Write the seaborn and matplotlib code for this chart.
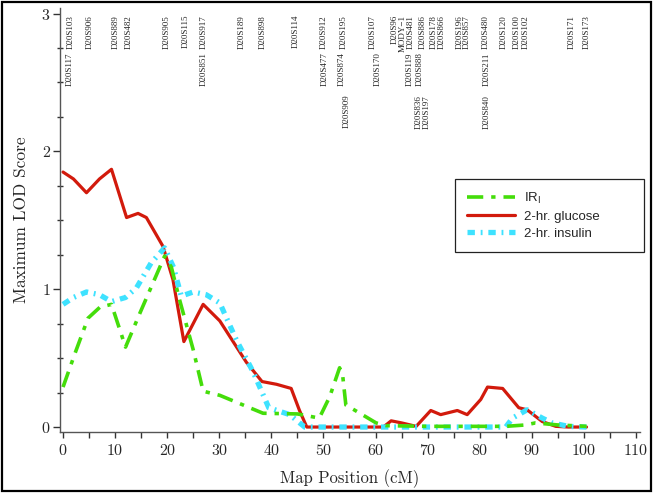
import numpy as np
import pandas as pd
import seaborn as sns
import matplotlib.pyplot as plt
from matplotlib.patches import Rectangle

# LOD score traces (map position in cM)
glucose_x = [0, 2, 4.5, 7, 9.3, 12.2, 14.4, 16.0, 19.2, 21.1, 23.2, 24.3, 26.9, 30.1, 35.2,
             38.2, 41.0, 43.8, 45.4, 46.8, 50, 55, 61.5, 63.0, 65.0, 67.8, 70.6, 72.5, 75.7,
             77.6, 80.2, 81.5, 84.4, 87.5, 89.1, 92.0, 94.6, 97, 100.5]
glucose_y = [1.85, 1.80, 1.70, 1.80, 1.87, 1.52, 1.55, 1.52, 1.31, 1.07, 0.62, 0.70, 0.89, 0.77, 0.47,
             0.33, 0.31, 0.28, 0.12, 0.0, 0.0, 0.0, 0.0, 0.045, 0.03, 0.005, 0.12, 0.09, 0.12,
             0.09, 0.20, 0.29, 0.28, 0.14, 0.125, 0.04, 0.005, 0.0, 0.0]

ir_x = [0, 2.3, 4.8, 7.1, 9.3, 12.0, 14.8, 19.5, 20.8, 22.4, 25.0, 26.9, 30.1, 38.4, 45.0,
        49.2, 51.2, 53.1, 53.7, 54.3, 57.0, 60.1, 62, 70, 80, 85, 88.8, 90.7, 95, 100.5]
ir_y = [0.29, 0.535, 0.79, 0.87, 0.89, 0.58, 0.83, 1.24, 1.16, 0.92, 0.56, 0.26, 0.23, 0.10, 0.095,
        0.065, 0.22, 0.43, 0.37, 0.16, 0.10, 0.03, 0.01, 0.005, 0.005, 0.005, 0.015, 0.03, 0.015, 0.005]

insulin_x = [0, 2, 4.5, 7, 9.3, 12.0, 14.1, 16.9, 19.5, 21.2, 22.7, 25.0, 27.5, 30.1, 33.3,
             36.5, 39.5, 43.5, 46.4, 50, 60, 70, 80, 85, 86.3, 89.1, 92.0, 93.9, 97, 100.5]
insulin_y = [0.89, 0.94, 0.98, 0.96, 0.91, 0.94, 1.01, 1.19, 1.30, 1.16, 0.95, 0.98, 0.96, 0.90, 0.63,
             0.40, 0.14, 0.09, 0.0, 0.0, 0.0, 0.0, 0.0, 0.0, 0.065, 0.125, 0.065, 0.03, 0.005, 0.0]

# marker names along the top, three stacked rows
row1_names = ['D20S103', 'D20S906', 'D20S889', 'D20S482', 'D20S905', 'D20S115', 'D20S917',
              'D20S189', 'D20S898', 'D20S114', 'D20S912', 'D20S195', 'D20S107', 'D20S96',
              'MODY\u22121', 'D20S481', 'D20S886', 'D20S178', 'D20S866', 'D20S196', 'D20S857',
              'D20S480', 'D20S120', 'D20S100', 'D20S102', 'D20S171', 'D20S173']
row1_pos = [1.5, 5.2, 10.2, 12.7, 20.0, 23.6, 27.1, 34.3, 38.4, 44.7, 50.1, 53.9, 59.4, 63.6,
            65.2, 66.7, 69.0, 71.1, 72.7, 76.2, 77.6, 81.2, 84.6, 87.1, 88.9, 97.6, 100.6]
row2_names = ['D20S117', 'D20S851', 'D20S477', 'D20S874', 'D20S170', 'D20S119', 'D20S888', 'D20S211']
row2_pos = [1.3, 27.1, 50.3, 53.6, 60.5, 66.5, 68.4, 81.3]
row3_names = ['D20S909', 'D20S836', 'D20S197', 'D20S840']
row3_pos = [54.5, 68.2, 69.8, 81.3]

sns.set_theme(style="white")
plt.rcParams['axes.formatter.use_mathtext'] = True
plt.rcParams['mathtext.fontset'] = 'dejavusans'

fig = plt.figure(figsize=(6.54, 4.96), dpi=100)
ax = fig.add_axes([0.0924, 0.1296, 0.8856, 0.8542])

red = '#d21a0c'
green = '#44dd0a'
cyan = '#3ee2ff'

sns.lineplot(x=glucose_x, y=glucose_y, ax=ax, color=red, lw=2.3, label='2-hr. glucose')
sns.lineplot(x=insulin_x, y=insulin_y, ax=ax, color=cyan, lw=3.8, label='2-hr. insulin')
ax.lines[-1].set_dashes([1.4, 1.1, 0.35, 1.1])
sns.lineplot(x=ir_x, y=ir_y, ax=ax, color=green, lw=2.6, label=r'IR$_\mathsf{I}$')
ax.lines[-1].set_dashes([4.5, 2.2, 1.2, 2.2])

ax.set_xlim(-0.5, 110.7)
ax.set_ylim(-0.034, 3.04)
ax.set_xticks(np.arange(0, 111, 10))
ax.set_xticks(np.arange(5, 111, 10), minor=True)
ax.set_yticks([0, 1, 2, 3])
ax.set_yticks(np.arange(0.25, 3, 0.25), minor=True)
for t in ax.get_xticklabels() + ax.get_yticklabels():
    t.set_fontfamily('cmr10')
    t.set_fontsize(11.5)
ax.tick_params(axis='x', which='both', bottom=True, direction='out', length=4, width=1,
               color='#333333', pad=4)
ax.tick_params(axis='y', which='major', left=True, direction='out', length=5, width=1,
               color='#333333', pad=2)
ax.tick_params(axis='y', which='minor', left=True, direction='inout', length=4, width=1,
               color='#333333')
for side in ['top', 'right']:
    ax.spines[side].set_visible(False)
for side in ['left', 'bottom']:
    ax.spines[side].set_color('#555555')
    ax.spines[side].set_linewidth(1)

ax.set_xlabel('Map Position (cM)', fontfamily='cmr10', fontsize=12)
ax.set_ylabel('Maximum LOD Score', fontfamily='cmr10', fontsize=12.5)
ax.xaxis.set_label_coords(0.5, -0.088)
ax.yaxis.set_label_coords(-0.055, 0.5)

for names, pos, top in [(row1_names, row1_pos, 2.99), (row2_names, row2_pos, 2.72),
                        (row3_names, row3_pos, 2.41)]:
    for n, p in zip(names, pos):
        ax.text(p, top, n, rotation=90, ha='center', va='top',
                fontfamily='Liberation Serif', fontsize=6.5)

h, l = ax.get_legend_handles_labels()
order = [2, 0, 1]
leg = ax.legend([h[i] for i in order], [l[i] for i in order], loc='upper left',
                bbox_to_anchor=(0.696, 0.639, 0.289, 0.0), bbox_transform=fig.transFigure,
                mode='expand', frameon=True, fancybox=False, framealpha=1,
                edgecolor='#222222', fontsize=9.5, handlelength=3.6, handletextpad=0.7,
                labelspacing=0.35, borderpad=0.9, borderaxespad=0)
leg.get_frame().set_linewidth(0.9)
for t in leg.get_texts():
    t.set_fontfamily('Liberation Sans')

fig.patches.append(Rectangle((0.003, 0.010), 0.992, 0.986, transform=fig.transFigure,
                             fill=False, lw=1.6, edgecolor='black'))

fig.savefig('out.png', dpi=100)
